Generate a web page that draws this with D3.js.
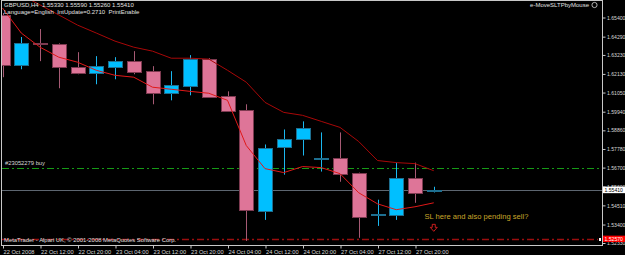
<!DOCTYPE html>
<html>
<head>
<meta charset="utf-8">
<script src="https://cdn.jsdelivr.net/npm/d3@7"></script>
<style>
  html, body { margin: 0; padding: 0; background: #000; }
  svg { display: block; }
  text { font-family: "Liberation Sans", Arial, sans-serif; }
</style>
</head>
<body>
<svg id="chart"></svg>
<script>
// GBPUSD H4 bars, one entry per bar (bar 0 = 22 Oct 04:00)
const opens  = [1.6555, 1.6264, 1.6390, 1.6386, 1.6252, 1.6217, 1.6252, 1.6287, 1.6229, 1.6101, 1.6141, 1.6299,
                1.6083, 1.6002, 1.5420, 1.5786, 1.5833, 1.5722, 1.5728, 1.5641, 1.5396, 1.5396, 1.5612, 1.5533]
const highs  = [1.6566, 1.6427, 1.6473, 1.6390, 1.6339, 1.6316, 1.6310, 1.6345, 1.6258, 1.6229, 1.6322, 1.6304,
                1.6112, 1.6037, 1.5804, 1.5891, 1.5938, 1.5874, 1.5874, 1.5641, 1.5484, 1.5699, 1.5699, 1.5559]
const lows   = [1.6194, 1.6240, 1.6287, 1.6130, 1.6211, 1.6153, 1.6182, 1.6211, 1.6037, 1.6060, 1.6089, 1.6077,
                1.5996, 1.5245, 1.5367, 1.5629, 1.5740, 1.5647, 1.5588, 1.5263, 1.5332, 1.5367, 1.5466, 1.5526]
const closes = [1.6264, 1.6392, 1.6386, 1.6252, 1.6217, 1.6258, 1.6287, 1.6223, 1.6101, 1.6147, 1.6299, 1.6077,
                1.5996, 1.5420, 1.5786, 1.5833, 1.5897, 1.5725, 1.5635, 1.5385, 1.5402, 1.5612, 1.5524, 1.5541]

// indicator lines
const upperLine = [1.6729, 1.6671, 1.6613, 1.6555, 1.6496, 1.6450, 1.6403, 1.6368, 1.6345, 1.6304, 1.6304, 1.6299,
                   1.6234, 1.6165, 1.6048, 1.5990, 1.5973, 1.5938, 1.5903, 1.5821, 1.5711, 1.5699, 1.5693, 1.5652]
const lowerLine = [1.6595, 1.6450, 1.6368, 1.6310, 1.6281, 1.6234, 1.6205, 1.6194, 1.6136, 1.6124, 1.6112, 1.6101,
                   1.6060, 1.5798, 1.5664, 1.5641, 1.5676, 1.5670, 1.5635, 1.5524, 1.5460, 1.5426, 1.5443, 1.5466]

const timeTickBars = [0, 2, 4, 6, 8, 10, 12, 14, 16, 18, 20, 22]
const timeTickLabels = ["22 Oct 2008", "22 Oct 12:00", "22 Oct 20:00", "23 Oct 04:00", "23 Oct 12:00", "23 Oct 20:00",
                        "24 Oct 04:00", "24 Oct 12:00", "24 Oct 20:00", "27 Oct 04:00", "27 Oct 12:00", "27 Oct 20:00"]
const priceTicks = [1.65400, 1.64290, 1.63230, 1.62130, 1.61050, 1.59940, 1.58860, 1.57780, 1.56700,
                    1.55600, 1.54510, 1.53400, 1.52330]

const bidPrice = 1.55410
const buyPrice = 1.56700
const slPrice = 1.52570
const arrowBar = 23
const arrowPrice = 1.5318
const noteBar = 22.5
const notePrice = 1.5370

const w = 625
const h = 255
const plot = { left: 2, right: 602, top: 1, bottom: 245 }

const x = d3.scaleLinear().domain([0, 32]).range([2.5, 602.5])
const y = d3.scaleLinear().domain([1.5233, 1.654]).range([243, 17.5])

const svg = d3.select("#chart")
    .attr("width", w)
    .attr("height", h)
    .attr("viewBox", `0 0 ${w} ${h}`)

svg.append("rect").attr("width", w).attr("height", h).attr("fill", "#000")

svg.append("clipPath").attr("id", "clip")
    .append("rect")
    .attr("x", plot.left).attr("y", plot.top)
    .attr("width", plot.right - plot.left).attr("height", plot.bottom - plot.top)

const g = svg.append("g").attr("clip-path", "url(#clip)")

// bid line
g.append("line")
    .attr("x1", plot.left).attr("x2", plot.right)
    .attr("y1", Math.round(y(bidPrice)) + 0.5).attr("y2", Math.round(y(bidPrice)) + 0.5)
    .attr("stroke", "#5d6670").attr("stroke-width", 1)

// order line
g.append("line")
    .attr("x1", plot.left).attr("x2", plot.right)
    .attr("y1", Math.round(y(buyPrice)) + 0.5).attr("y2", Math.round(y(buyPrice)) + 0.5)
    .attr("stroke", "#169a16").attr("stroke-width", 1)
    .attr("stroke-dasharray", "7,3,2,3")

g.append("text")
    .attr("x", 5).attr("y", y(buyPrice) - 3)
    .attr("fill", "#d8d8d8").style("font-size", "5.8px")
    .text("#23052279 buy")

// stop loss line
g.append("line")
    .attr("x1", plot.left).attr("x2", plot.right - 4)
    .attr("y1", Math.round(y(slPrice)) + 0.5).attr("y2", Math.round(y(slPrice)) + 0.5)
    .attr("stroke", "#9a0e0e").attr("stroke-width", 1.6)
    .attr("stroke-dasharray", "7,3,2,3")
g.append("rect")
    .attr("x", plot.right - 3).attr("y", Math.round(y(slPrice)) - 1)
    .attr("width", 2).attr("height", 3)
    .attr("fill", "#fff")

const bars = d3.range(opens.length).map(i => ({
    i, o: opens[i], h: highs[i], l: lows[i], c: closes[i], up: closes[i] >= opens[i]
}))

const bull = { fill: "#00BFFF", stroke: "#1e6f90", wick: "#1bb8f0" }
const bear = { fill: "#DE7598", stroke: "#7d3a50", wick: "#a65a74" }

// wicks
g.selectAll(".wick")
    .data(bars)
    .enter()
    .append("line")
    .attr("class", "wick")
    .attr("x1", d => Math.round(x(d.i)) + 0.5)
    .attr("x2", d => Math.round(x(d.i)) + 0.5)
    .attr("y1", d => y(d.h))
    .attr("y2", d => y(d.l))
    .attr("stroke", d => d.up ? bull.wick : bear.wick)
    .attr("stroke-width", 1)

// bodies
g.selectAll(".body")
    .data(bars)
    .enter()
    .append("rect")
    .attr("class", "body")
    .attr("x", d => Math.round(x(d.i)) - 6.5)
    .attr("width", 14)
    .attr("y", d => Math.round(Math.min(y(d.o), y(d.c))) + 0.5)
    .attr("height", d => Math.max(1, Math.round(Math.abs(y(d.o) - y(d.c)))))
    .attr("fill", d => d.up ? bull.fill : bear.fill)
    .attr("stroke", d => d.up ? bull.stroke : bear.stroke)
    .attr("stroke-width", 1)

// indicator lines
const lineGen = d3.line().x((d, i) => x(i)).y(d => y(d))
g.append("path")
    .attr("d", lineGen(upperLine))
    .attr("fill", "none").attr("stroke", "#a80808").attr("stroke-width", 1)
g.append("path")
    .attr("d", lineGen(lowerLine))
    .attr("fill", "none").attr("stroke", "#e01818").attr("stroke-width", 1)

// annotation
g.append("text")
    .attr("x", x(noteBar)).attr("y", y(notePrice))
    .attr("fill", "#c9a62a").style("font-size", "7.6px")
    .text("SL here and also pending sell?")

const ax = x(arrowBar)
const ay = y(arrowPrice)
g.append("path")
    .attr("d", `M${ax - 1.5},${ay - 4} h3 v3 h2 l-3.5,4 l-3.5,-4 h2 z`)
    .attr("fill", "none").attr("stroke", "#e02020").attr("stroke-width", 0.9)

// info text
svg.append("text")
    .attr("x", 4).attr("y", 7.3)
    .attr("fill", "#e0e0e0").style("font-size", "6px")
    .attr("xml:space", "preserve")
    .text(`GBPUSD,H4  ${opens[23].toFixed(5)} ${highs[23].toFixed(5)} ${lows[23].toFixed(5)} ${closes[23].toFixed(5)}`)
svg.append("text")
    .attr("x", 4).attr("y", 14)
    .attr("fill", "#e0e0e0").style("font-size", "6px")
    .attr("xml:space", "preserve")
    .text("Language=English  IntUpdate=0.2710  PrintEnable")

svg.append("text")
    .attr("x", 589).attr("y", 7)
    .attr("text-anchor", "end")
    .attr("fill", "#e0e0e0").style("font-size", "6px")
    .text("e-MoveSLTPbyMouse")
svg.append("circle")
    .attr("cx", 594.5).attr("cy", 5).attr("r", 2.6)
    .attr("fill", "none").attr("stroke", "#d8d8d8").attr("stroke-width", 0.8)

svg.append("text")
    .attr("x", 4).attr("y", 242)
    .attr("fill", "#e0e0e0").style("font-size", "5.9px")
    .text("MetaTrader - Alpari UK, © 2001-2008 MetaQuotes Software Corp.")

// frame
svg.append("rect")
    .attr("x", plot.left - 0.5).attr("y", plot.top - 0.5)
    .attr("width", plot.right - plot.left + 1).attr("height", plot.bottom - plot.top + 1)
    .attr("fill", "none").attr("stroke", "#c8c8c8").attr("stroke-width", 1)

// price axis
const yAxis = svg.append("g")
    .attr("class", "y axis")
    .attr("transform", `translate(${plot.right + 0.5}, 0)`)
    .call(d3.axisRight(y).tickValues(priceTicks).tickSize(3).tickPadding(1.5).tickFormat(d => d.toFixed(5)))
yAxis.select(".domain").remove()
yAxis.selectAll("line").attr("stroke", "#c8c8c8")
yAxis.selectAll("text")
    .attr("fill", "#d8d8d8")
    .style("font-size", "5.1px")
    .style("font-family", "'Liberation Sans', Arial, sans-serif")

// time axis
const xAxis = svg.append("g")
    .attr("class", "x axis")
    .attr("transform", `translate(0, ${plot.bottom + 0.5})`)
    .call(d3.axisBottom(x).tickValues(timeTickBars).tickSize(3).tickFormat((d, i) => timeTickLabels[i]))
xAxis.select(".domain").remove()
xAxis.selectAll("line").attr("stroke", "#c8c8c8").attr("transform", "translate(0.5,0)")
xAxis.selectAll("text")
    .attr("fill", "#d8d8d8")
    .attr("text-anchor", "start")
    .attr("x", 0.5)
    .attr("y", 4)
    .attr("dy", "0.72em")
    .style("font-size", "5.7px")
    .style("font-family", "'Liberation Sans', Arial, sans-serif")

// bid and stop loss price labels
const bidY = y(bidPrice)
svg.append("rect")
    .attr("x", plot.right + 1).attr("y", bidY - 3.3)
    .attr("width", 22).attr("height", 6.6)
    .attr("fill", "#fff")
svg.append("text")
    .attr("x", plot.right + 2.5).attr("y", bidY).attr("dy", "0.35em")
    .attr("fill", "#000").style("font-size", "5.1px")
    .text(bidPrice.toFixed(5))

const slY = y(slPrice)
svg.append("rect")
    .attr("x", plot.right + 1).attr("y", slY - 3.2)
    .attr("width", 23).attr("height", 6.4)
    .attr("fill", "#ff0000")
svg.append("text")
    .attr("x", plot.right + 2.5).attr("y", slY).attr("dy", "0.35em")
    .attr("fill", "#fff").style("font-size", "5.1px")
    .text(slPrice.toFixed(5))
</script>
</body>
</html>
